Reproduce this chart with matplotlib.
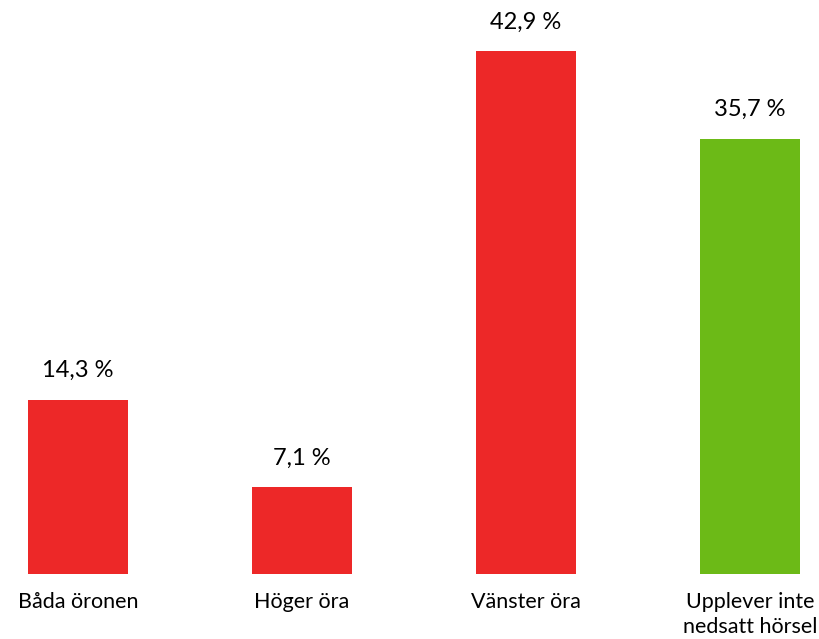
import numpy as np
import matplotlib.pyplot as plt

plt.rcParams['font.family'] = ['Lato', 'DejaVu Sans']

# data
categories = ['Båda öronen', 'Höger öra', 'Vänster öra', 'Upplever inte\nnedsatt hörsel']
values = [14.3, 7.1, 42.9, 35.7]
value_labels = ['14,3 %', '7,1 %', '42,9 %', '35,7 %']

Red = '#ED2828'
Green = '#6CBA17'
colors = [Red, Red, Red, Green]

fig = plt.figure(figsize=(8.19, 6.39), dpi=100)
# axes bottom sits at the bars' base (574 px from top)
ax = fig.add_axes([0, (639 - 574) / 639, 1, 574 / 639])

x = np.arange(len(categories))
bars = ax.bar(x, values, width=0.45, color=colors)

for b, lab in zip(bars, value_labels):
    ax.annotate(lab, (b.get_x() + b.get_width() / 2, b.get_height()),
                xytext=(0, 29), textcoords='offset pixels',
                ha='center', va='center', fontsize=17, color='black')

ax.set_xlim(-78 / 224, (819 - 78) / 224)
ax.set_ylim(0, 574 / 12.19)
ax.set_xticks(x)
ax.set_xticklabels(categories, fontsize=15.5, linespacing=1.3)
ax.tick_params(axis='x', length=0, pad=13)
ax.set_yticks([])
for s in ax.spines.values():
    s.set_visible(False)

fig.savefig('out.png', dpi=100)
